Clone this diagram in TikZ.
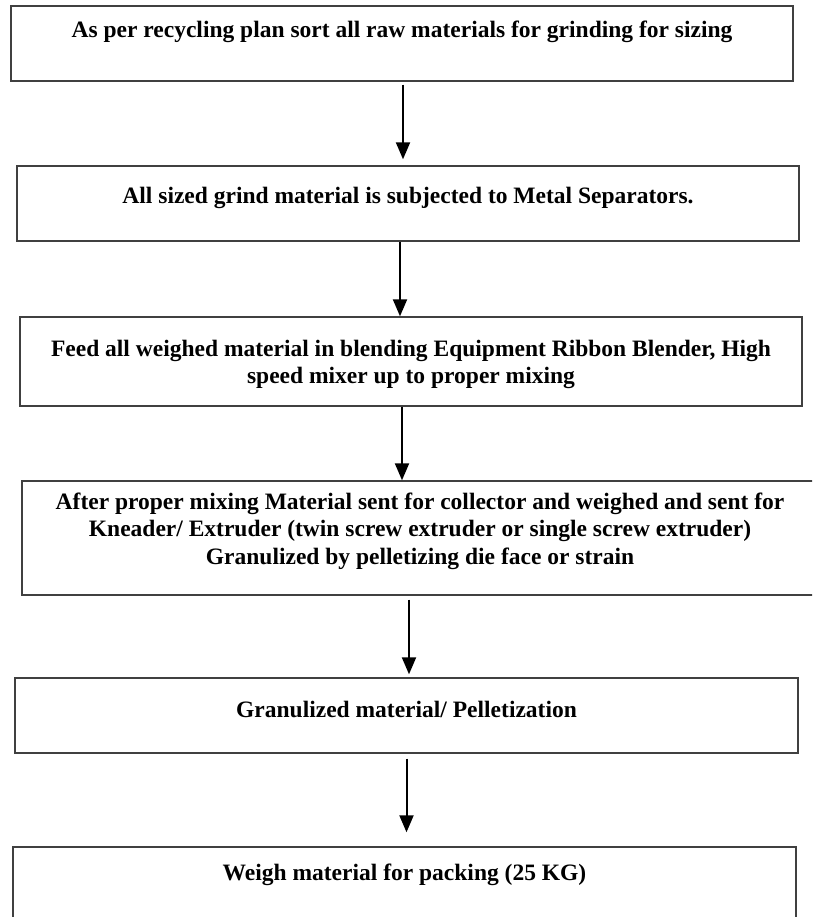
\documentclass[tikz,border=0pt]{standalone}
\usepackage{fontspec}
\setmainfont{Liberation Serif}
\usetikzlibrary{arrows.meta}

\tikzset{
  stepbox/.style={draw=black!75, line width=1.4pt, inner sep=0pt},
  steptext/.style={font=\bfseries\fontsize{23.5}{27.5}\selectfont, align=center, inner sep=0pt},
  flow/.style={-{Triangle[length=17pt,width=14pt]}, line width=2pt},
}

\begin{document}
\begin{tikzpicture}[x=1pt, y=-1pt] % 单位按像素算，y 轴向下

    % --- 画布 ---
    \useasboundingbox (0,0) rectangle (812,917);
    \clip (0,0) rectangle (812,917);

    % --- 1. 方框 ---
    % 每个框按中心坐标放置，宽高用 minimum width / height 给出
    \node[stepbox, minimum width=782, minimum height=75]  (sort)     at (402,43.5)  {};
    \node[stepbox, minimum width=782, minimum height=75]  (separate) at (408,203.5) {};
    \node[stepbox, minimum width=782, minimum height=89]  (blend)    at (411,361.5) {};
    \node[stepbox, minimum width=796, minimum height=114] (extrude)  at (420,538)   {};
    \node[stepbox, minimum width=783, minimum height=75]  (pellet)   at (406.5,715.5) {};
    \node[stepbox, minimum width=783, minimum height=75]  (pack)     at (404.5,884.5) {};

    % --- 2. 文字 ---
    % 文字靠近框的上部，单独放置
    \node[steptext] (sort-txt)     at (402,32)  {As per recycling plan sort all raw materials for grinding for sizing};
    \node[steptext] (separate-txt) at (408,198) {All sized grind material is subjected to Metal Separators.};
    \node[steptext] (blend-txt)    at (411,364.5) {Feed all weighed material in blending Equipment Ribbon Blender, High\\ speed mixer up to proper mixing};
    \node[steptext] (extrude-txt)  at (420,531) {After proper mixing Material sent for collector and weighed and sent for\\ Kneader/ Extruder (twin screw extruder or single screw extruder)\\ Granulized by pelletizing die face or strain};
    \node[steptext] (pellet-txt)   at (406.5,709) {Granulized material/ Pelletization};
    \node[steptext] (pack-txt)     at (404.5,875) {Weigh material for packing (25 KG)};

    % --- 3. 箭头 ---
    % 竖直箭头，x 位置用 xshift 微调
    \draw[flow, shorten <=3pt, shorten >=6pt] ([xshift=1pt]sort.south) -- ([xshift=1pt]sort.south |- separate.north);
    \draw[flow] ([xshift=-8pt]separate.south) -- ([xshift=-8pt]separate.south |- blend.north);
    \draw[flow] ([xshift=-9pt]blend.south) -- ([xshift=-9pt]blend.south |- extrude.north);
    \draw[flow, shorten <=4pt, shorten >=3pt] ([xshift=-11pt]extrude.south) -- ([xshift=-11pt]extrude.south |- pellet.north);
    \draw[flow, shorten <=5pt, shorten >=14pt] (pellet.south) -- (pellet.south |- pack.north);

\end{tikzpicture}
\end{document}
